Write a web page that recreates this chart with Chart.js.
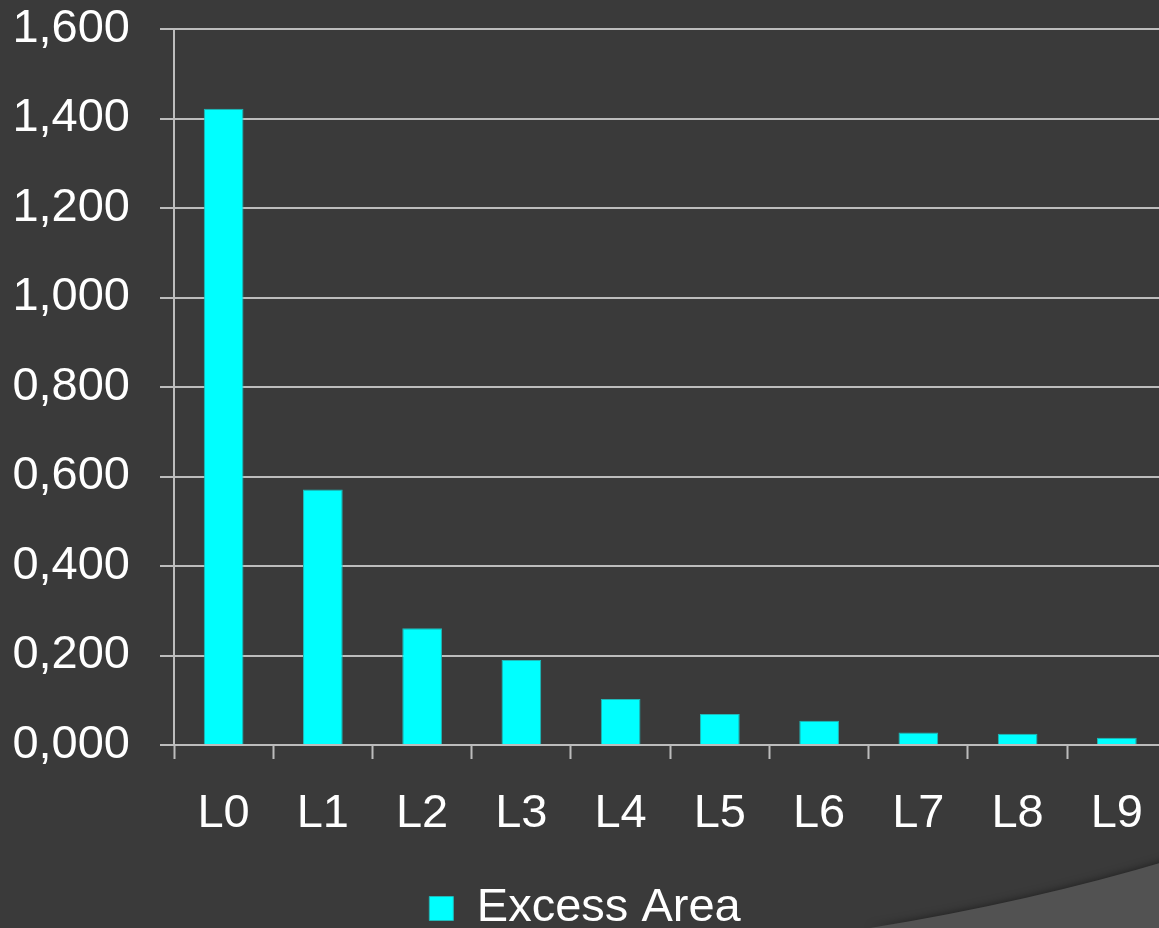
<!DOCTYPE html>
<html lang="en">
<head>
<meta charset="UTF-8">
<title>Excess Area</title>
<script src="https://cdn.jsdelivr.net/npm/chart.js"></script>
<style>
    html, body { margin: 0; padding: 0; background: #3a3a3a; overflow: hidden; }
    .wrap { width: 1159px; height: 928px; overflow: hidden; position: relative; }
    .box { width: 1170px; height: 928px; position: absolute; left: 0; top: 0; }
</style>
</head>
<body>
<div class="wrap">
    <div class="box"><canvas id="chart"></canvas></div>
</div>
<script>
// data
const levels = ['L0', 'L1', 'L2', 'L3', 'L4', 'L5', 'L6', 'L7', 'L8', 'L9'];
const excessArea = [1.422, 0.571, 0.261, 0.190, 0.103, 0.069, 0.054, 0.028, 0.025, 0.016];
const seriesName = 'Excess Area';
const yTicks = [0, 0.2, 0.4, 0.6, 0.8, 1.0, 1.2, 1.4, 1.6];

const gridColor = '#bcbcbc';
const font = { family: "'Liberation Sans', Arial, sans-serif", size: 47 };

// background + the lighter swoosh in the bottom right corner
const backdrop = {
    id: 'backdrop',
    beforeDraw(chart) {
        const c = chart.ctx;
        const w = chart.width, h = chart.height;
        c.save();
        c.fillStyle = '#3a3a3a';
        c.fillRect(0, 0, w, h);
        c.beginPath();
        c.moveTo(870, h);
        c.quadraticCurveTo(1030, 902, w, 860);
        c.lineTo(w, h);
        c.closePath();
        c.shadowColor = 'rgba(0,0,0,0.5)';
        c.shadowBlur = 8;
        c.fillStyle = '#525252';
        c.fill();
        c.restore();
    }
};

new Chart(document.getElementById('chart'), {
    type: 'bar',
    data: {
        labels: levels,
        datasets: [{
            label: seriesName,
            data: excessArea,
            backgroundColor: '#00ffff',
            borderColor: '#20b8b8',
            borderWidth: 1,
            categoryPercentage: 1,
            barPercentage: 0.4
        }]
    },
    options: {
        responsive: true,
        maintainAspectRatio: false,
        animation: false,
        layout: { padding: { top: 29, right: 0, bottom: -14, left: 0 } },
        plugins: {
            tooltip: { enabled: false },
            legend: {
                position: 'bottom',
                labels: {
                    color: '#ffffff',
                    font: font,
                    boxWidth: 24,
                    boxHeight: 24,
                    padding: 0
                }
            }
        },
        scales: {
            x: {
                afterFit(scale) { scale.height = 140; },
                grid: {
                    drawOnChartArea: false,
                    drawTicks: true,
                    tickLength: 14,
                    tickWidth: 2,
                    tickColor: gridColor,
                    offset: true
                },
                border: { color: gridColor, width: 2 },
                ticks: { color: '#ffffff', font: font, padding: 27, maxRotation: 0 }
            },
            y: {
                min: 0,
                max: 1.6,
                afterFit(scale) {
                    scale.width = 174;
                    scale.paddingTop = 0;
                    scale.paddingBottom = 0;
                },
                afterBuildTicks(scale) { scale.ticks = yTicks.map(v => ({ value: v })); },
                grid: {
                    color: gridColor,
                    lineWidth: 2,
                    tickLength: 14
                },
                border: { color: gridColor, width: 2 },
                ticks: {
                    color: '#ffffff',
                    font: font,
                    padding: 30,
                    callback: v => Number(v).toFixed(3).replace('.', ',')
                }
            }
        }
    },
    plugins: [backdrop]
});
</script>
</body>
</html>
